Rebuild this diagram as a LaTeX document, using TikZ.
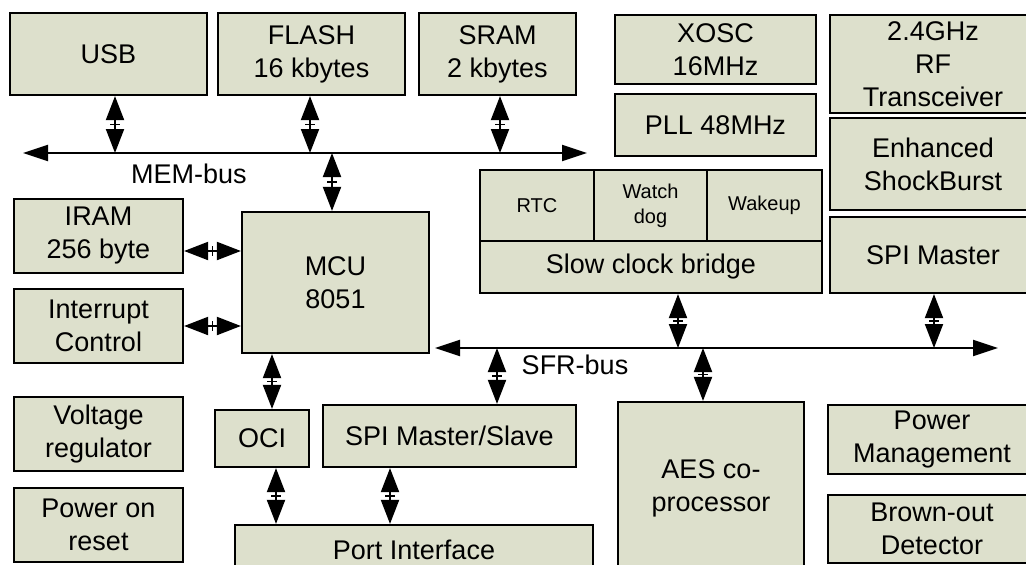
\documentclass[tikz,border=0pt]{standalone}
\usepackage{fontspec}
\setmainfont{Liberation Sans}
\usetikzlibrary{arrows.meta}
\definecolor{blkfill}{RGB}{221,224,204}
\begin{document}
\begin{tikzpicture}[x=1pt,y=-1pt,
  blk/.style={draw=black, line width=2.2pt, fill=blkfill, inner sep=0pt, align=center,
    font=\fontsize{27}{33}\selectfont},
  sub/.style={blk, font=\fontsize{20}{25}\selectfont},
  lbl/.style={inner sep=0pt, font=\fontsize{27}{33}\selectfont},
  bus/.style={line width=2pt, {Triangle[length=25pt,width=16pt]}-{Triangle[length=25pt,width=16pt]}},
  dbl/.style={line width=2pt, {Triangle[length=24pt,width=18pt]}-{Triangle[length=24pt,width=18pt]}},
  barmark/.style={midway, sloped, fill=black, inner sep=0pt, minimum width=1.5pt, minimum height=10pt}
]
\useasboundingbox (0,0) rectangle (1026,565);
\clip (0,0) rectangle (1026,565);

% top row
\node[blk, minimum width=197pt, minimum height=82pt] (usb) at (108.5,54) {USB};
\node[blk, minimum width=187pt, minimum height=82pt] (flash) at (311.5,54) {FLASH\\16 kbytes};
\node[blk, minimum width=157pt, minimum height=82pt] (sram) at (497.5,54) {SRAM\\2 kbytes};
\node[blk, minimum width=201pt, minimum height=69pt] (xosc) at (715.5,49.5) {XOSC\\16MHz};
\node[blk, minimum width=201pt, minimum height=62pt] (pll) at (715.5,125) {PLL 48MHz};
\node[blk, minimum width=206pt, minimum height=98pt] (rf) at (933,64) {2.4GHz\\RF\\Transceiver};
\node[blk, minimum width=206pt, minimum height=92pt] (esb) at (933,164) {Enhanced\\ShockBurst};
\node[blk, minimum width=206pt, minimum height=76pt] (spim) at (933,255) {SPI Master};

% slow clock group
\node[sub, minimum width=114pt, minimum height=71pt] (rtc) at (537,205.5) {RTC};
\node[sub, minimum width=113pt, minimum height=71pt] (wd) at (650.5,205.5) {Watch\\dog};
\node[sub, minimum width=115pt, minimum height=71pt] (wake) at (764.5,205.5) {Wakeup};
\node[blk, minimum width=342pt, minimum height=52pt] (scb) at (651,267) {Slow clock bridge};

% left column
\node[blk, minimum width=169pt, minimum height=74pt] (iram) at (98.5,236) {IRAM\\256 byte};
\node[blk, minimum width=169pt, minimum height=74pt] (intc) at (98.5,326) {Interrupt\\Control};
\node[blk, minimum width=169pt, minimum height=74pt] (vreg) at (98.5,434) {Voltage\\regulator};
\node[blk, minimum width=169pt, minimum height=74pt] (por) at (98.5,525) {Power on\\reset};

% centre
\node[blk, minimum width=187pt, minimum height=141pt] (mcu) at (335.5,282.5) {MCU\\8051};
\node[blk, minimum width=94pt, minimum height=57pt] (oci) at (262,438.5) {OCI};
\node[blk, minimum width=253pt, minimum height=62pt] (spims) at (449.5,436) {SPI Master/Slave};
\node[blk, minimum width=358pt, minimum height=50pt] (port) at (414,550) {Port Interface};
\node[blk, minimum width=186pt, minimum height=173pt] (aes) at (711,488.5) {AES co-\\processor};

% right bottom
\node[blk, minimum width=208pt, minimum height=69pt] (pm) at (932,439.5) {Power\\Management};
\node[blk, minimum width=208pt, minimum height=68pt] (bod) at (932,529) {Brown-out\\Detector};

% MEM bus
\coordinate (memL) at (23,153);
\coordinate (memR) at (587,153);
\draw[bus] (memL) -- (memR);
\node[lbl] (memlbl) at (189,174) {MEM-bus};
\coordinate (mUsb) at (115,153);
\coordinate (mFlash) at (310,153);
\coordinate (mSram) at (500,153);
\coordinate (mMcu) at (332,153);
\draw[dbl] (usb.south -| mUsb) -- node[barmark]{} (mUsb);
\draw[dbl] (flash.south -| mFlash) -- node[barmark]{} (mFlash);
\draw[dbl] (sram.south -| mSram) -- node[barmark]{} (mSram);
\draw[dbl] (mMcu) -- node[barmark]{} (mcu.north -| mMcu);

% SFR bus
\coordinate (sfrL) at (435,348);
\coordinate (sfrR) at (998,348);
\draw[bus] (sfrL) -- (sfrR);
\node[lbl] (sfrlbl) at (575,365) {SFR-bus};
\coordinate (sScb) at (678,348);
\coordinate (sSpim) at (934,348);
\coordinate (sSpims) at (497,348);
\coordinate (sAes) at (703,348);
\draw[dbl] (scb.south -| sScb) -- node[barmark]{} (sScb);
\draw[dbl] (spim.south -| sSpim) -- node[barmark]{} (sSpim);
\draw[dbl] (sSpims) -- node[barmark]{} (spims.north -| sSpims);
\draw[dbl] (sAes) -- node[barmark]{} (aes.north -| sAes);

% MCU side links
\draw[dbl] ([yshift=-15pt]iram.east) -- node[barmark]{} ([yshift=-15pt]iram.east -| mcu.west);
\draw[dbl] (intc.east) -- node[barmark]{} (intc.east -| mcu.west);

% lower links
\coordinate (xMcuOci) at (272,0);
\coordinate (xOciPort) at (276,0);
\coordinate (xSpiPort) at (390,0);
\draw[dbl] (mcu.south -| xMcuOci) -- node[barmark]{} (oci.north -| xMcuOci);
\draw[dbl] (oci.south -| xOciPort) -- node[barmark]{} (port.north -| xOciPort);
\draw[dbl] (spims.south -| xSpiPort) -- node[barmark]{} (port.north -| xSpiPort);
\end{tikzpicture}
\end{document}
